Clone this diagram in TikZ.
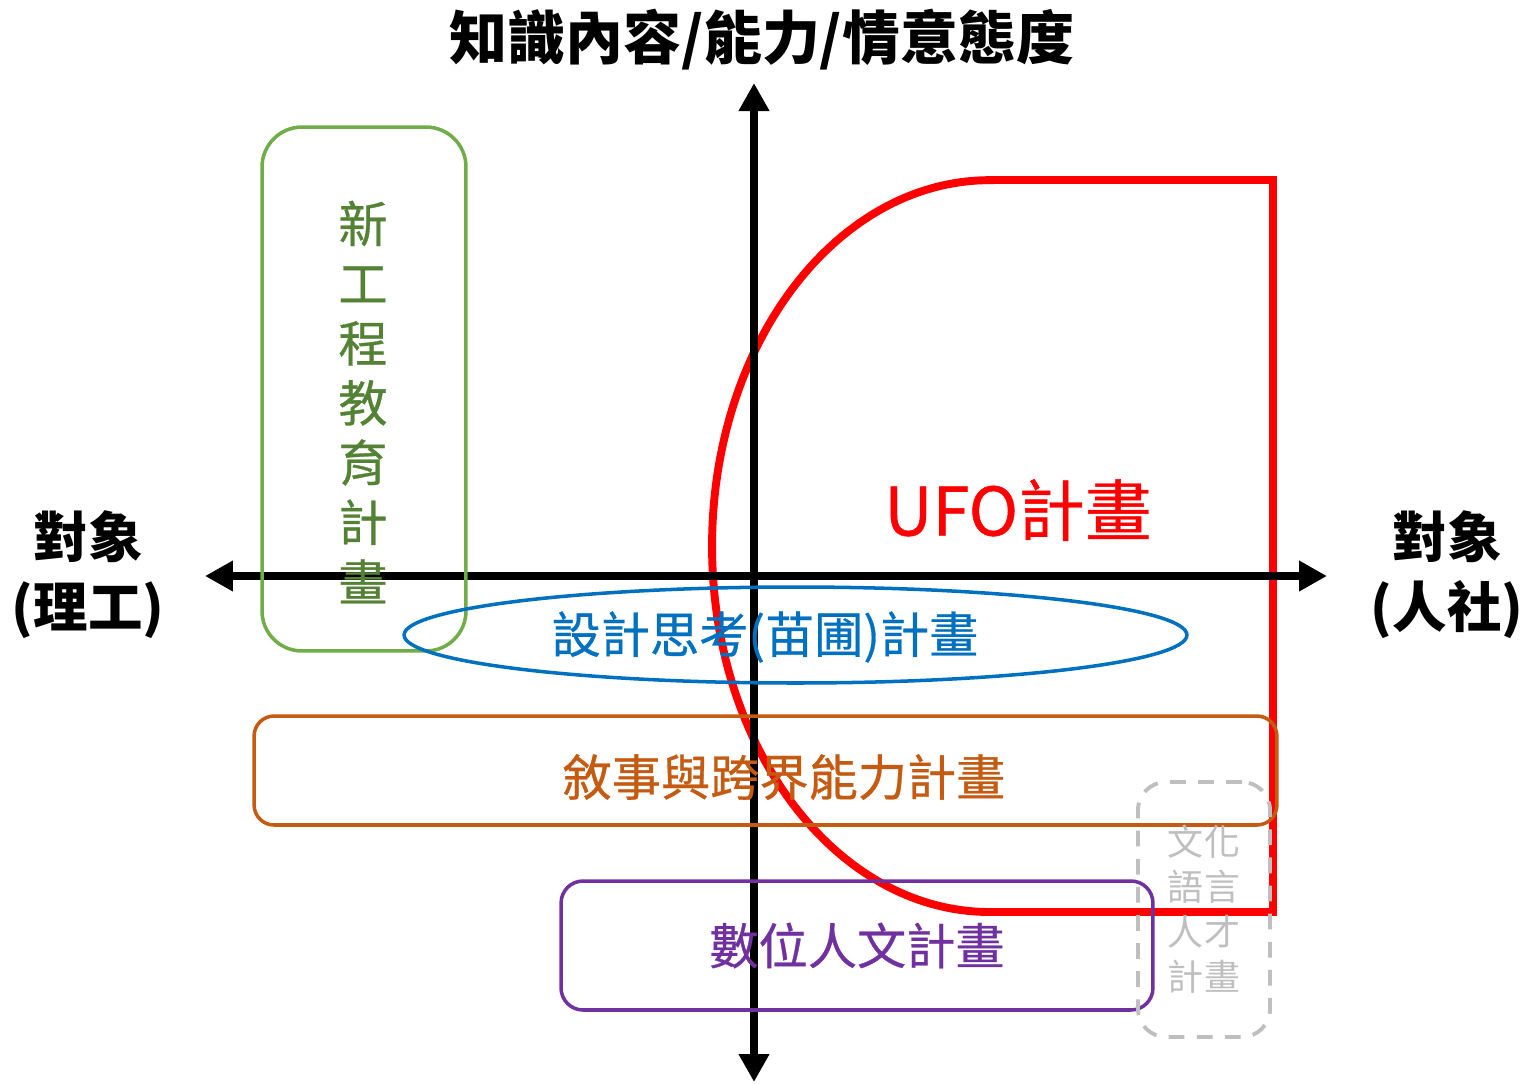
\documentclass[tikz,border=0pt]{standalone}
\usepackage{fontspec}
\setmainfont{Noto Sans CJK TC}
\newfontfamily\medfont[FakeBold=0.6]{Noto Sans CJK TC}
\usetikzlibrary{arrows.meta}
\usetikzlibrary{shapes.geometric}
\tikzset{>={Triangle[width=0.58cm,length=0.56cm]}}
\definecolor{ufored}{RGB}{255,0,0}
\definecolor{engline}{RGB}{112,173,71}
\definecolor{engtext}{RGB}{84,130,53}
\definecolor{dtblue}{RGB}{0,112,192}
\definecolor{storyorange}{RGB}{197,90,17}
\definecolor{dhpurple}{RGB}{112,48,160}
\definecolor{langgray}{RGB}{191,191,191}
\tikzset{
    plan/.style={draw, line width=2pt, inner sep=0pt},
    plantext/.style={font=\medfont\fontsize{28}{34}\selectfont},
    axislabel/.style={align=center, font=\bfseries\fontsize{31}{40}\selectfont},
}

\begin{document}
\begin{tikzpicture}[x=0.02cm, y=-0.02cm]
    \useasboundingbox [fill=white] (0,0) rectangle (1525,1083);

    % UFO
    \path [draw, ufored, line width=4.5pt] (990,180) -- (1273,180) -- (1273,912) -- (990,912)
        arc [start angle=270, end angle=90, x radius=5.56cm, y radius=7.32cm] -- cycle;
    \node (ufo) [text=ufored, font=\medfont\fontsize{38}{44}\selectfont] at (1018,510) {UFO計畫};

    % axes
    \coordinate (top) at (754,83);
    \coordinate (bottom) at (754,1082);
    \coordinate (left) at (205,576);
    \coordinate (right) at (1327,576);
    \path [draw, <->, line width=4pt] (bottom) -- (top);
    \path [draw, <->, line width=4pt] (left) -- (right);

    \node (title) [font=\bfseries\fontsize{33}{40}\selectfont] at (762,40) {知識內容/能力/情意態度};
    \node (sci) [axislabel] at (88,575) {對象\\(理工)};
    \node (hum) [axislabel] at (1447,575) {對象\\(人社)};

    % plans
    \node (eng) [plan, engline, rounded corners=0.8cm, minimum width=4.08cm, minimum height=10.48cm] at (364,389) {};
    \node (engtext) [plantext, text=engtext, align=center] at (363,402) {新\\工\\程\\教\\育\\計\\畫};
    \node (dt) [plan, dtblue, ellipse, minimum width=15.66cm, minimum height=1.92cm] at (795.5,635) {};
    \node (dttext) [plantext, text=dtblue] at (765,637) {設計思考(苗圃)計畫};
    \node (story) [plan, storyorange, rounded corners=0.4cm, minimum width=20.46cm, minimum height=2.18cm] at (765.5,770.5) {};
    \node (storytext) [plantext, text=storyorange] at (784,777) {敘事與跨界能力計畫};
    \node (dh) [plan, dhpurple, rounded corners=0.44cm, minimum width=11.84cm, minimum height=2.58cm,
        plantext] at (857,945.5) {數位人文計畫};
    \node (lang) [plan, langgray, line width=2.2pt, dash pattern=on 9pt off 7pt, rounded corners=0.56cm,
        minimum width=2.64cm, minimum height=5.1cm, align=center,
        font=\fontsize{20.5}{25.6}\selectfont] at (1204,909.5) {文化\\語言\\人才\\計畫};
\end{tikzpicture}
\end{document}
